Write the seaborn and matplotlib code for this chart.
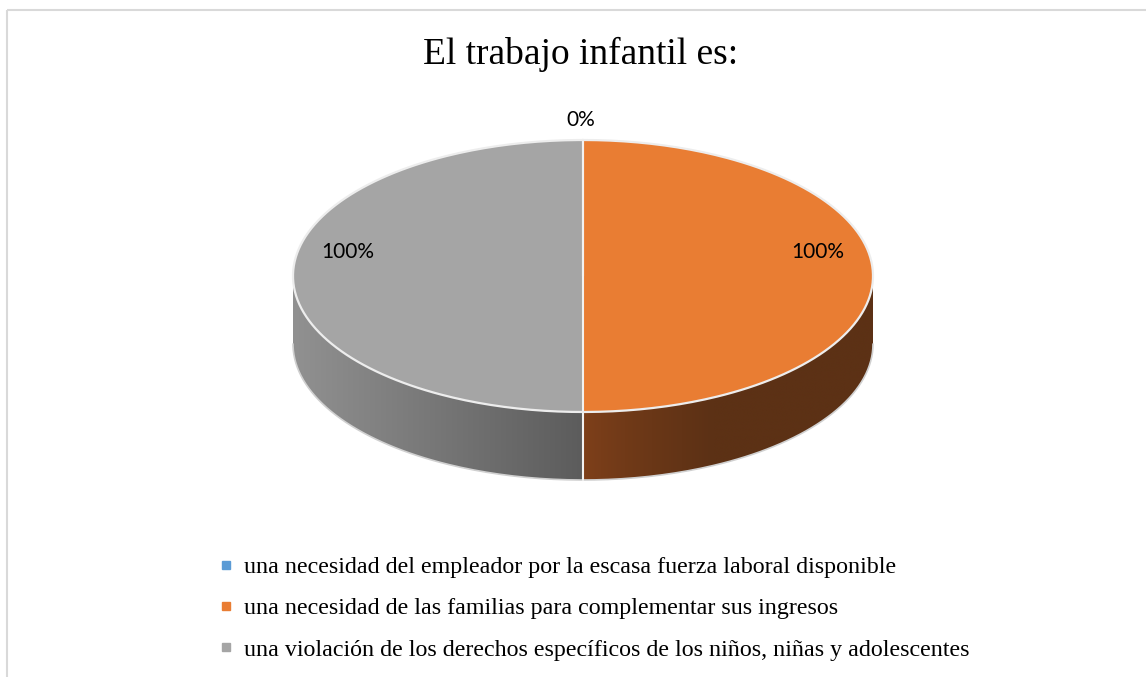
"""
3D-style pie chart: "El trabajo infantil es:" survey answers.
"""
import numpy as np
import matplotlib
matplotlib.use("Agg")
import matplotlib.pyplot as plt
from matplotlib.colors import to_rgb
from matplotlib.patches import Polygon, Rectangle
from matplotlib.lines import Line2D
import seaborn as sns

# --- data -------------------------------------------------------------
title = "El trabajo infantil es:"
categories = [
    "una necesidad del empleador por la escasa fuerza laboral disponible",
    "una necesidad de las familias para complementar sus ingresos",
    "una violación de los derechos específicos de los niños, niñas y adolescentes",
]
values = [0, 100, 100]
value_labels = ["0%", "100%", "100%"]

# --- style ------------------------------------------------------------
sns.set_theme(style="white")
top_colors = ["#5B9BD5", "#E97D33", "#A5A5A5"]
# side gradient colours (left end, right end) for each slice
side_left = ["#4A7DAA", "#7F401A", "#919191"]
side_right = ["#2E5C85", "#5C3115", "#5C5C5C"]
serif = ["Liberation Serif", "DejaVu Serif"]
sans = ["Lato", "DejaVu Sans"]

W, H = 1146, 677
fig = plt.figure(figsize=(W / 100, H / 100), dpi=100)
ax = fig.add_axes([0, 0, 1, 1])
ax.axis("off")

# chart frame (cut off on the right and bottom in the original)
ax.add_patch(Rectangle((7, 10), W + 20, H + 20, fill=False,
                       edgecolor="#D9D9D9", linewidth=1.5))

ax.text(581, 54, title, ha="center", va="center", fontsize=27,
        family=serif, color="#000000")

# pie geometry (pixel space)
cx, cy, rx, ry, depth = 583, 276, 290, 136, 68


def pt(theta, dy=0.0):
    # theta in degrees, clockwise from 12 o'clock
    t = np.radians(theta)
    return cx + rx * np.sin(t), cy - ry * np.cos(t) + dy


total = float(sum(values))
starts = np.concatenate([[0], np.cumsum(values)[:-1]]) / total * 360
ends = np.cumsum(values) / total * 360

# side walls: only the front half (90..270 deg) is visible
for i, (a0, a1) in enumerate(zip(starts, ends)):
    lo, hi = max(a0, 90), min(a1, 270)
    if hi <= lo:
        continue
    seg = np.linspace(lo, hi, 200)
    poly = [pt(s) for s in seg] + [pt(s, depth) for s in seg[::-1]]
    patch = Polygon(poly, closed=True, facecolor="none", edgecolor="none")
    ax.add_patch(patch)
    xs = np.array([p[0] for p in poly])
    ys = np.array([p[1] for p in poly])
    x0, x1 = xs.min(), xs.max()
    f = np.linspace(0, 1, 300)
    if i == 1:
        f = np.clip(f * (x1 - x0) / 130, 0, 1) ** 0.8
    cl, cr = np.array(to_rgb(side_left[i])), np.array(to_rgb(side_right[i]))
    grad = cl[None, :] + (cr - cl)[None, :] * f[:, None]
    im = ax.imshow(grad[None, :, :], extent=(x0, x1, ys.max(), ys.min()),
                   aspect="auto", interpolation="bilinear", zorder=1)
    im.set_clip_path(patch)

# bottom outline
ts = np.linspace(90, 270, 200)
ax.plot(*zip(*[pt(t, depth) for t in ts]), color="#D0D0D0", linewidth=1.2,
        zorder=2)

# top faces
for i, (a0, a1) in enumerate(zip(starts, ends)):
    if a1 - a0 <= 0:
        continue
    ts = np.linspace(a0, a1, 200)
    poly = [(cx, cy)] + [pt(t) for t in ts]
    ax.add_patch(Polygon(poly, closed=True, facecolor=top_colors[i],
                         edgecolor="none", zorder=3))

# slice separators and rim
for a in ends:
    x, y = pt(a)
    ax.plot([cx, x], [cy, y], color="#F2F2F2", linewidth=1.5, zorder=4)
    if 90 <= a % 360 <= 270:
        ax.plot([x, x], [y, y + depth], color="#F2F2F2", linewidth=1.5,
                zorder=4)
ts = np.linspace(0, 360, 400)
ax.plot(*zip(*[pt(t) for t in ts]), color="#EDEDED", linewidth=1.6, zorder=4)

# value labels
for i, (a0, a1) in enumerate(zip(starts, ends)):
    mid = 0.5 * (a0 + a1)
    if a1 - a0 <= 0:
        x, y = cx - 2, 120
    else:
        t = np.radians(mid)
        x = cx + rx * 0.81 * np.sin(t)
        y = cy - ry * 0.81 * np.cos(t) - 24
    ax.text(x, y, value_labels[i], ha="center", va="center", fontsize=15,
            family=sans, color="#000000", zorder=5)

ax.set_xlim(0, W)
ax.set_ylim(H, 0)

# legend
handles = [Line2D([], [], linestyle="none", marker="s", markersize=5.5,
                  markerfacecolor=c, markeredgecolor=c) for c in top_colors]
leg = fig.legend(handles, categories, loc="upper left",
                 bbox_to_anchor=(209 / W, 1 - 547 / H), frameon=False,
                 prop={"family": serif, "size": 17.3}, handlelength=0.6,
                 handletextpad=0.45, labelspacing=0.8, borderaxespad=0)
for txt in leg.get_texts():
    txt.set_color("#000000")

fig.savefig("out.png", dpi=100)
